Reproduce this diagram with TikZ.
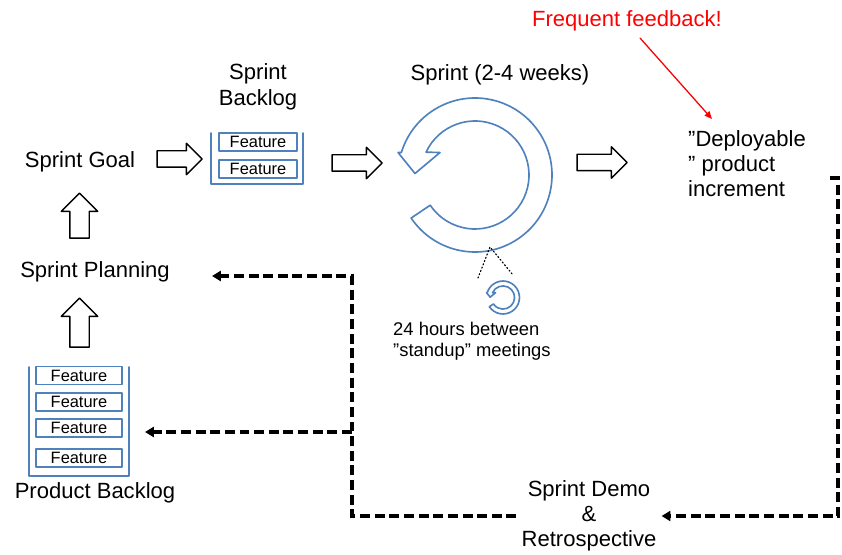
\documentclass[tikz,border=0pt]{standalone}
\usepackage{fontspec}
\setmainfont{Liberation Sans}
\usepackage{tikz}
\usetikzlibrary{calc}
\usetikzlibrary{arrows.meta}
\usetikzlibrary{shapes.arrows}
\definecolor{ffqqqq}{rgb}{1.,0.,0.}
\definecolor{qqbbcc}{rgb}{0.31,0.506,0.741}
\tikzstyle{every node}=[font=\fontsize{18.8}{21.3}\selectfont]
\tikzset{
  fatarrow/.style={draw=black,line width=1.2pt,single arrow,single arrow head extend=0.225cm,inner sep=0.225cm,minimum height=1.35cm},
  featbox/.style={draw=qqbbcc,line width=1.3pt,inner sep=0pt,minimum height=0.54cm,font=\fontsize{14}{16}\selectfont},
  flowdash/.style={line width=2.7pt,line cap=butt,line join=miter,dash pattern=on 8.5pt off 4pt,-{Triangle[length=7.5pt,width=8.5pt]}},
  bucket/.style={color=qqbbcc,line width=1.6pt}
}
\newcommand{\cyclearrow}[2]{%
  \begin{scope}[shift={#1},scale=#2]
    \draw[color=qqbbcc,line width=1.4pt] (214:77) arc[start angle=214,end angle=523,radius=77] -- (-77,22.5) -- (-60,1.5) -- (-35,22.5) -- (155:54) arc[start angle=155,end angle=-146,radius=54] -- cycle;
  \end{scope}}

\begin{document}
\begin{tikzpicture}[line cap=round,line join=round,x=0.03cm,y=0.03cm]
    \useasboundingbox (0,0) rectangle (842,554);
    % texts
    \node (goal) at (80,392.5) {Sprint Goal};
    \node (plan) at (95,282) {Sprint Planning};
    \node (pback) at (95,61) {Product Backlog};
    \node[align=center,font=\fontsize{18.8}{22.2}\selectfont] (sback) at (258,467) {Sprint\\Backlog};
    \node (sprint) at (500,479) {Sprint (2-4 weeks)};
    \node[color=ffqqqq] (fb) at (627,533) {Frequent feedback!};
    \node[anchor=west,align=left,inner sep=0pt] (deploy) at (688,390.5) {”Deployable\\” product\\increment};
    \node[anchor=west,align=left,inner sep=0pt,font=\fontsize{15.7}{18}\selectfont] (standup) at (393,213) {24 hours between\\”standup” meetings};
    \node[align=center,inner xsep=0.15cm] (demo) at (589,38) {Sprint Demo\\\&\\Retrospective};
    % hollow arrows
    \node[fatarrow] (a1) at (175.5,395) {};
    \node[fatarrow,minimum height=1.5cm] (a2) at (353,391) {};
    \node[fatarrow,minimum height=1.5cm] (a3) at (598,391.5) {};
    \node[fatarrow,rotate=90,inner sep=0.27cm,single arrow head extend=0.255cm] (u1) at (79.5,333.5) {};
    \node[fatarrow,rotate=90,inner sep=0.27cm,single arrow head extend=0.255cm,minimum height=1.47cm] (u2) at (79.5,226.5) {};
    % backlogs
    \draw[bucket] (211,421) -- (211,370) -- (303,370) -- (303,421);
    \node[featbox,minimum width=2.34cm] (sf1) at (258,412) {Feature};
    \node[featbox,minimum width=2.34cm] (sf2) at (258,385) {Feature};
    \draw[bucket] (29,187) -- (29,78) -- (129,78) -- (129,187);
    \node[featbox,minimum width=2.58cm] (pf1) at (79,178.5) {Feature};
    \node[featbox,minimum width=2.58cm] (pf2) at (79,152) {Feature};
    \node[featbox,minimum width=2.58cm] (pf3) at (79,126) {Feature};
    \node[featbox,minimum width=2.58cm] (pf4) at (79,96) {Feature};
    % cycles
    \cyclearrow{(475,379)}{1}
    \cyclearrow{(503,256.5)}{0.214}
    \draw[dotted,line width=1pt] (478,276) -- (490,307) -- (513,279);
    % feedback
    \coordinate (fbfrom) at (640,516);
    \coordinate (fbto) at (712,435);
    \draw[color=ffqqqq,line width=1.1pt,-{Triangle[length=6.5pt,width=5.5pt]}] (fbfrom) -- (fbto);
    % loop back
    \coordinate (incstart) at (830,376);
    \coordinate (lcorner) at (352,38);
    \coordinate (plantip) at (212,278);
    \coordinate (pbtip) at (145,122);
    \draw[flowdash] (incstart) -- ++(8,0) |- (demo.east);
    \draw[flowdash] (demo.west) -- (lcorner) |- (plantip);
    \draw[flowdash] (lcorner |- pbtip) -- (pbtip);
\end{tikzpicture}
\end{document}
